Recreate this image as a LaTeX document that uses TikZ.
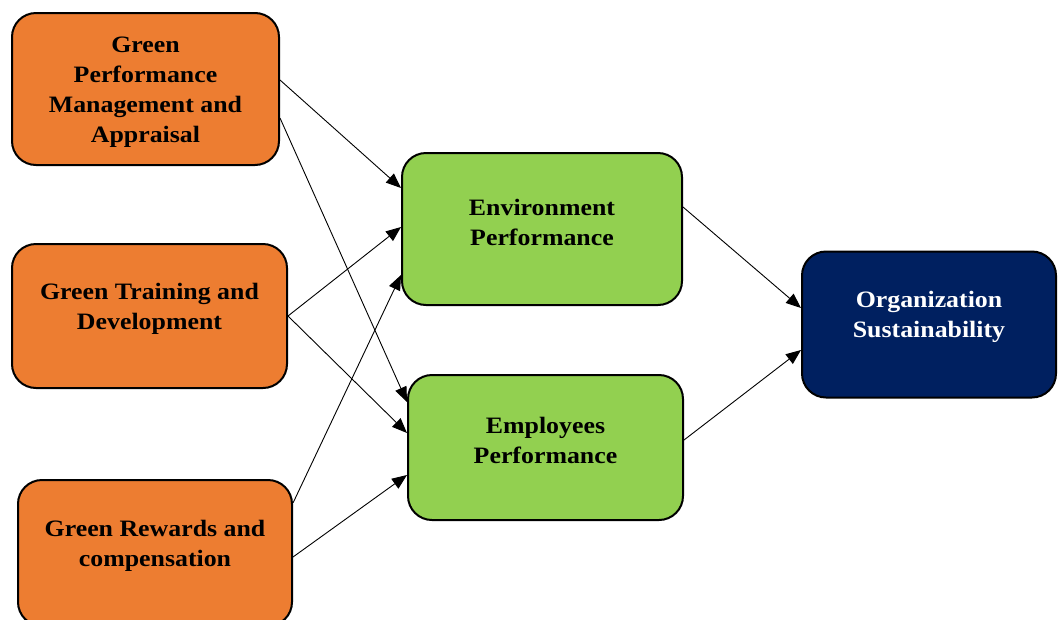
\documentclass[tikz,border=0pt]{standalone}
\usepackage{fontspec}
\newfontfamily\boxfont{Liberation Serif}[FakeStretch=1.1]
\usetikzlibrary{arrows.meta}

\definecolor{hrorange}{RGB}{237,125,49}
\definecolor{perfgreen}{RGB}{146,208,80}
\definecolor{orgnavy}{RGB}{0,32,96}

\begin{document}
\begin{tikzpicture}[x=1pt, y=-1pt,
                    box_style/.style={draw=black, line width=2pt, rounded corners=24pt, inner sep=0pt},
                    hr_style/.style={box_style, fill=hrorange},
                    perf_style/.style={box_style, fill=perfgreen},
                    org_style/.style={box_style, fill=orgnavy},
                    text_style/.style={align=center, inner sep=0pt, font=\boxfont\bfseries\fontsize{23.5}{30}\selectfont},
                    edge_style/.style={-{Triangle[length=15pt,width=12pt]}, draw=black, line width=0.9pt}
   ]
   \useasboundingbox[fill=white] (0,0) rectangle (1058,619);
   % HR practices
   \node[hr_style, minimum width=267pt, minimum height=152pt,
         label={[text_style, yshift=-3pt]center:{Green\\Performance\\Management and\\Appraisal}}] (gpma) at (145.5,89) {};
   \node[hr_style, minimum width=275pt, minimum height=144pt,
         label={[text_style, yshift=7pt]center:{Green Training and\\Development}}] (gtd) at (149.5,316) {};
   \node[hr_style, minimum width=274pt, minimum height=146pt,
         label={[text_style, yshift=7pt]center:{Green Rewards and\\compensation}}] (grc) at (155,553) {};
   % Performance
   \node[perf_style, minimum width=280pt, minimum height=152pt,
         label={[text_style, yshift=7pt]center:{Environment\\Performance}}] (env) at (542,229) {};
   \node[perf_style, minimum width=275pt, minimum height=145pt,
         label={[text_style, yshift=7pt]center:{Employees\\Performance}}] (emp) at (545.5,447.5) {};
   % Outcome
   \node[org_style, minimum width=254pt, minimum height=146pt,
         label={[text_style, text=white, yshift=8pt]center:{Organization\\Sustainability}}] (org) at (929,324.5) {};

   \draw[edge_style] ([yshift=9pt]gpma.east) -- ([yshift=41pt]env.west);
   \draw[edge_style] ([yshift=-29pt]gpma.east) -- ([yshift=45.5pt]emp.west);
   \draw[edge_style] (gtd.east) -- ([yshift=2pt]env.west);
   \draw[edge_style] (gtd.east) -- ([yshift=14.5pt]emp.west);
   \draw[edge_style] ([yshift=50pt]grc.east) -- ([yshift=-46pt]env.west);
   \draw[edge_style] ([yshift=-4pt]grc.east) -- ([yshift=-27.5pt]emp.west);
   \draw[edge_style] ([yshift=22pt]env.east) -- ([yshift=16.5pt]org.west);
   \draw[edge_style] ([yshift=7.5pt]emp.east) -- ([yshift=-25.5pt]org.west);
\end{tikzpicture}
\end{document}
